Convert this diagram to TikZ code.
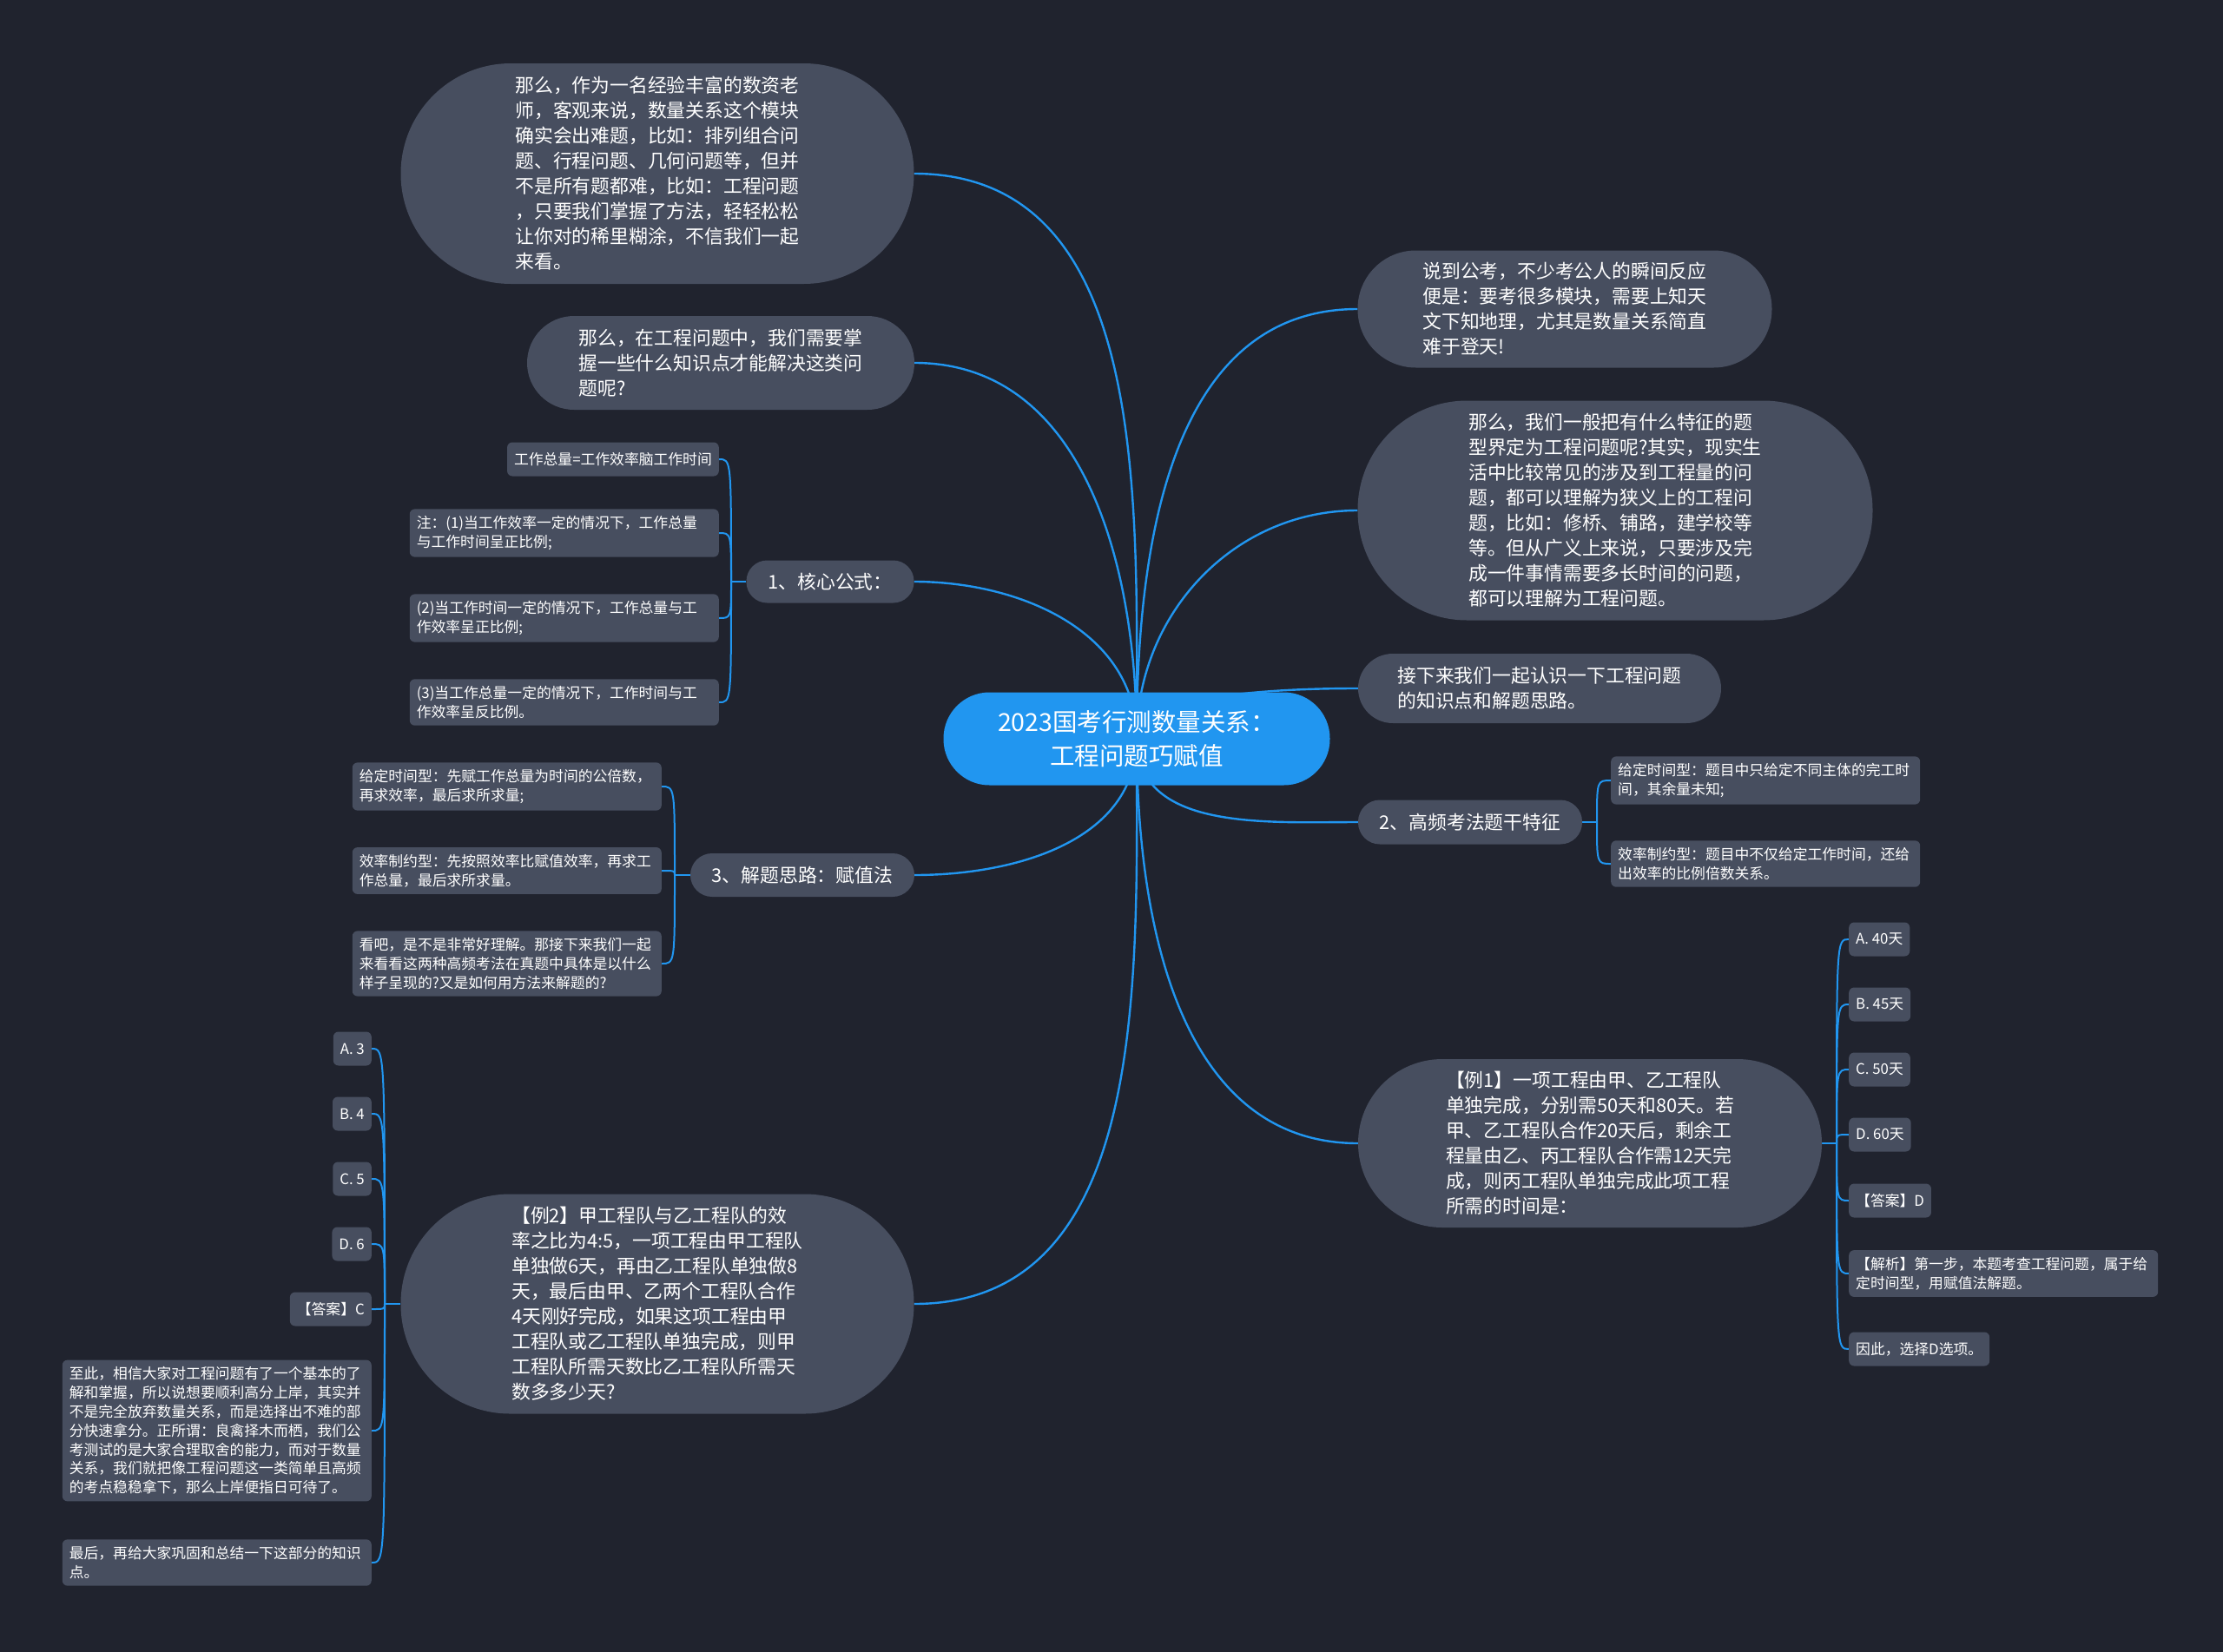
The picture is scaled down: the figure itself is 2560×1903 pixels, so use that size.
\documentclass[tikz,border=0pt]{standalone}
\usepackage{fontspec}
\setmainfont{Noto Sans CJK SC}
\definecolor{bgc}{HTML}{20232E}
\definecolor{nodec}{HTML}{474E5F}
\definecolor{mainc}{HTML}{2196F0}
\definecolor{linec}{HTML}{2196F0}
\pgfdeclarelayer{bgl}
\pgfdeclarelayer{lines}
\pgfsetlayers{bgl,lines,main}
\newcommand\bigtxt{\fontsize{21.8}{29}\selectfont}
\newcommand\smalltxt{\fontsize{16.8}{21.8}\selectfont}
\newcommand\titletxt{\fontsize{28.5}{39}\selectfont}
\tikzset{
  titlebox/.style={fill=mainc, text=white, inner sep=0pt, align=center, font=\titletxt},
  pill/.style={fill=nodec, text=white, inner sep=0pt, align=left, font=\bigtxt},
  leaf/.style={fill=nodec, text=white, rounded corners=6pt, inner xsep=8pt, inner ysep=8pt, minimum height=39pt, align=left, font=\smalltxt},
  leafw/.style={leaf, text width=340pt},
  conn/.style={draw=linec, line width=2.4pt},
  conntwo/.style={draw=linec, line width=2pt},
}
\begin{document}
\begin{tikzpicture}[x=1pt,y=-1pt]
\useasboundingbox (0,0) rectangle (2560,1903);
\begin{pgfonlayer}{bgl}
\fill[bgc] (0,0) rectangle (2560,1903);
\end{pgfonlayer}

% central
\node[titlebox, minimum width=445pt, minimum height=107pt, rounded corners=53pt] (c) at (1309,851) {2023国考行测数量关系：\\工程问题巧赋值};

% left level 1
\node[pill, minimum width=591pt, minimum height=254pt, rounded corners=127pt] (L1) at (757,200) {那么，作为一名经验丰富的数资老\\师，客观来说，数量关系这个模块\\确实会出难题，比如：排列组合问\\题、行程问题、几何问题等，但并\\不是所有题都难，比如：工程问题\\，只要我们掌握了方法，轻轻松松\\让你对的稀里糊涂，不信我们一起\\来看。};
\node[pill, minimum width=446pt, minimum height=108pt, rounded corners=54pt] (L2) at (830,418) {那么，在工程问题中，我们需要掌\\握一些什么知识点才能解决这类问\\题呢?};
\node[pill, minimum width=193pt, minimum height=49pt, rounded corners=24pt] (L3) at (956,670) {1、核心公式：};
\node[pill, minimum width=258pt, minimum height=50pt, rounded corners=25pt] (L4) at (924,1008) {3、解题思路：赋值法};
\node[pill, minimum width=591pt, minimum height=253pt, rounded corners=126pt] (L5) at (757,1502) {【例2】甲工程队与乙工程队的效\\率之比为4:5，一项工程由甲工程队\\单独做6天，再由乙工程队单独做8\\天，最后由甲、乙两个工程队合作\\4天刚好完成，如果这项工程由甲\\工程队或乙工程队单独完成，则甲\\工程队所需天数比乙工程队所需天\\数多多少天?};

% right level 1
\node[pill, minimum width=477pt, minimum height=135pt, rounded corners=67pt] (R1) at (1802,356) {说到公考，不少考公人的瞬间反应\\便是：要考很多模块，需要上知天\\文下知地理，尤其是数量关系简直\\难于登天!};
\node[pill, minimum width=593pt, minimum height=253pt, rounded corners=126pt] (R2) at (1860,588) {那么，我们一般把有什么特征的题\\型界定为工程问题呢?其实，现实生\\活中比较常见的涉及到工程量的问\\题，都可以理解为狭义上的工程问\\题，比如：修桥、铺路，建学校等\\等。但从广义上来说，只要涉及完\\成一件事情需要多长时间的问题，\\都可以理解为工程问题。};
\node[pill, minimum width=418pt, minimum height=80pt, rounded corners=40pt] (R3) at (1773,793) {接下来我们一起认识一下工程问题\\的知识点和解题思路。};
\node[pill, minimum width=258pt, minimum height=51pt, rounded corners=25pt] (R4) at (1693,947) {2、高频考法题干特征};
\node[pill, minimum width=534pt, minimum height=194pt, rounded corners=97pt] (R5) at (1831,1317) {【例1】一项工程由甲、乙工程队\\单独完成，分别需50天和80天。若\\甲、乙工程队合作20天后，剩余工\\程量由乙、丙工程队合作需12天完\\成，则丙工程队单独完成此项工程\\所需的时间是：};

% L3 children
\node[leaf, anchor=east] (L3a) at (828,529) {工作总量=工作效率脑工作时间};
\node[leafw, anchor=east] (L3b) at (828,614) {注：(1)当工作效率一定的情况下，工作总量\\与工作时间呈正比例;};
\node[leafw, anchor=east] (L3c) at (828,712) {(2)当工作时间一定的情况下，工作总量与工\\作效率呈正比例;};
\node[leafw, anchor=east] (L3d) at (828,809) {(3)当工作总量一定的情况下，工作时间与工\\作效率呈反比例。};

% L4 children
\node[leafw, anchor=east] (L4a) at (762,906) {给定时间型：先赋工作总量为时间的公倍数，\\再求效率，最后求所求量;};
\node[leafw, anchor=east] (L4b) at (762,1003) {效率制约型：先按照效率比赋值效率，再求工\\作总量，最后求所求量。};
\node[leafw, anchor=east] (L4c) at (762,1110) {看吧，是不是非常好理解。那接下来我们一起\\来看看这两种高频考法在真题中具体是以什么\\样子呈现的?又是如何用方法来解题的?};

% L5 children
\node[leaf, anchor=east] (L5a) at (428,1208) {A. 3};
\node[leaf, anchor=east] (L5b) at (428,1283) {B. 4};
\node[leaf, anchor=east] (L5c) at (428,1358) {C. 5};
\node[leaf, anchor=east] (L5d) at (428,1433) {D. 6};
\node[leaf, anchor=east] (L5e) at (428,1508) {【答案】C};
\node[leafw, anchor=east] (L5f) at (428,1648) {至此，相信大家对工程问题有了一个基本的了\\解和掌握，所以说想要顺利高分上岸，其实并\\不是完全放弃数量关系，而是选择出不难的部\\分快速拿分。正所谓：良禽择木而栖，我们公\\考测试的是大家合理取舍的能力，而对于数量\\关系，我们就把像工程问题这一类简单且高频\\的考点稳稳拿下，那么上岸便指日可待了。};
\node[leafw, anchor=east] (L5g) at (428,1800) {最后，再给大家巩固和总结一下这部分的知识\\点。};

% R4 children
\node[leafw, anchor=west] (R4a) at (1855,899) {给定时间型：题目中只给定不同主体的完工时\\间，其余量未知;};
\node[leafw, anchor=west] (R4b) at (1855,995) {效率制约型：题目中不仅给定工作时间，还给\\出效率的比例倍数关系。};

% R5 children
\node[leaf, anchor=west] (R5a) at (2129,1082) {A. 40天};
\node[leaf, anchor=west] (R5b) at (2129,1157) {B. 45天};
\node[leaf, anchor=west] (R5c) at (2129,1232) {C. 50天};
\node[leaf, anchor=west] (R5d) at (2129,1307) {D. 60天};
\node[leaf, anchor=west] (R5e) at (2129,1383) {【答案】D};
\node[leafw, anchor=west] (R5f) at (2129,1467) {【解析】第一步，本题考查工程问题，属于给\\定时间型，用赋值法解题。};
\node[leaf, anchor=west] (R5g) at (2129,1554) {因此，选择D选项。};

% junctions
\coordinate (L3j) at (842,670);
\coordinate (L4j) at (777,1008);
\coordinate (L5j) at (443,1502);
\coordinate (R4j) at (1839,947);
\coordinate (R5j) at (2115,1317);

\begin{pgfonlayer}{lines}
% main connectors
\draw[conn] (c.center) to[out=90,in=0] (L1.east);
\draw[conn] (c.center) to[out=90,in=0] (L2.east);
\draw[conn] (c.center) to[out=90,in=0] (L3.east);
\draw[conn] (c.center) to[out=270,in=0] (L4.east);
\draw[conn] (c.center) to[out=270,in=0] (L5.east);
\draw[conn] (c.center) to[out=90,in=180] (R1.west);
\draw[conn] (c.center) to[out=90,in=180] (R2.west);
\draw[conn] (c.center) to[out=90,in=180,looseness=0.55] (R3.west);
\draw[conn] (c.center) to[out=270,in=180] (R4.west);
\draw[conn] (c.center) to[out=270,in=180] (R5.west);
% branches
\draw[conntwo] (L3.west) -- (L3j);
\foreach \n in {L3a,L3b,L3c,L3d}
  \draw[conntwo] (L3j) .. controls (L3j |- \n.east) and (L3j |- \n.east) .. (\n.east);
\draw[conntwo] (L4.west) -- (L4j);
\foreach \n in {L4a,L4b,L4c}
  \draw[conntwo] (L4j) .. controls (L4j |- \n.east) and (L4j |- \n.east) .. (\n.east);
\draw[conntwo] (L5.west) -- (L5j);
\foreach \n in {L5a,L5b,L5c,L5d,L5e,L5f,L5g}
  \draw[conntwo] (L5j) .. controls (L5j |- \n.east) and (L5j |- \n.east) .. (\n.east);
\draw[conntwo] (R4.east) -- (R4j);
\foreach \n in {R4a,R4b}
  \draw[conntwo] (R4j) .. controls (R4j |- \n.west) and (R4j |- \n.west) .. (\n.west);
\draw[conntwo] (R5.east) -- (R5j);
\foreach \n in {R5a,R5b,R5c,R5d,R5e,R5f,R5g}
  \draw[conntwo] (R5j) .. controls (R5j |- \n.west) and (R5j |- \n.west) .. (\n.west);
\end{pgfonlayer}
\end{tikzpicture}
\end{document}
